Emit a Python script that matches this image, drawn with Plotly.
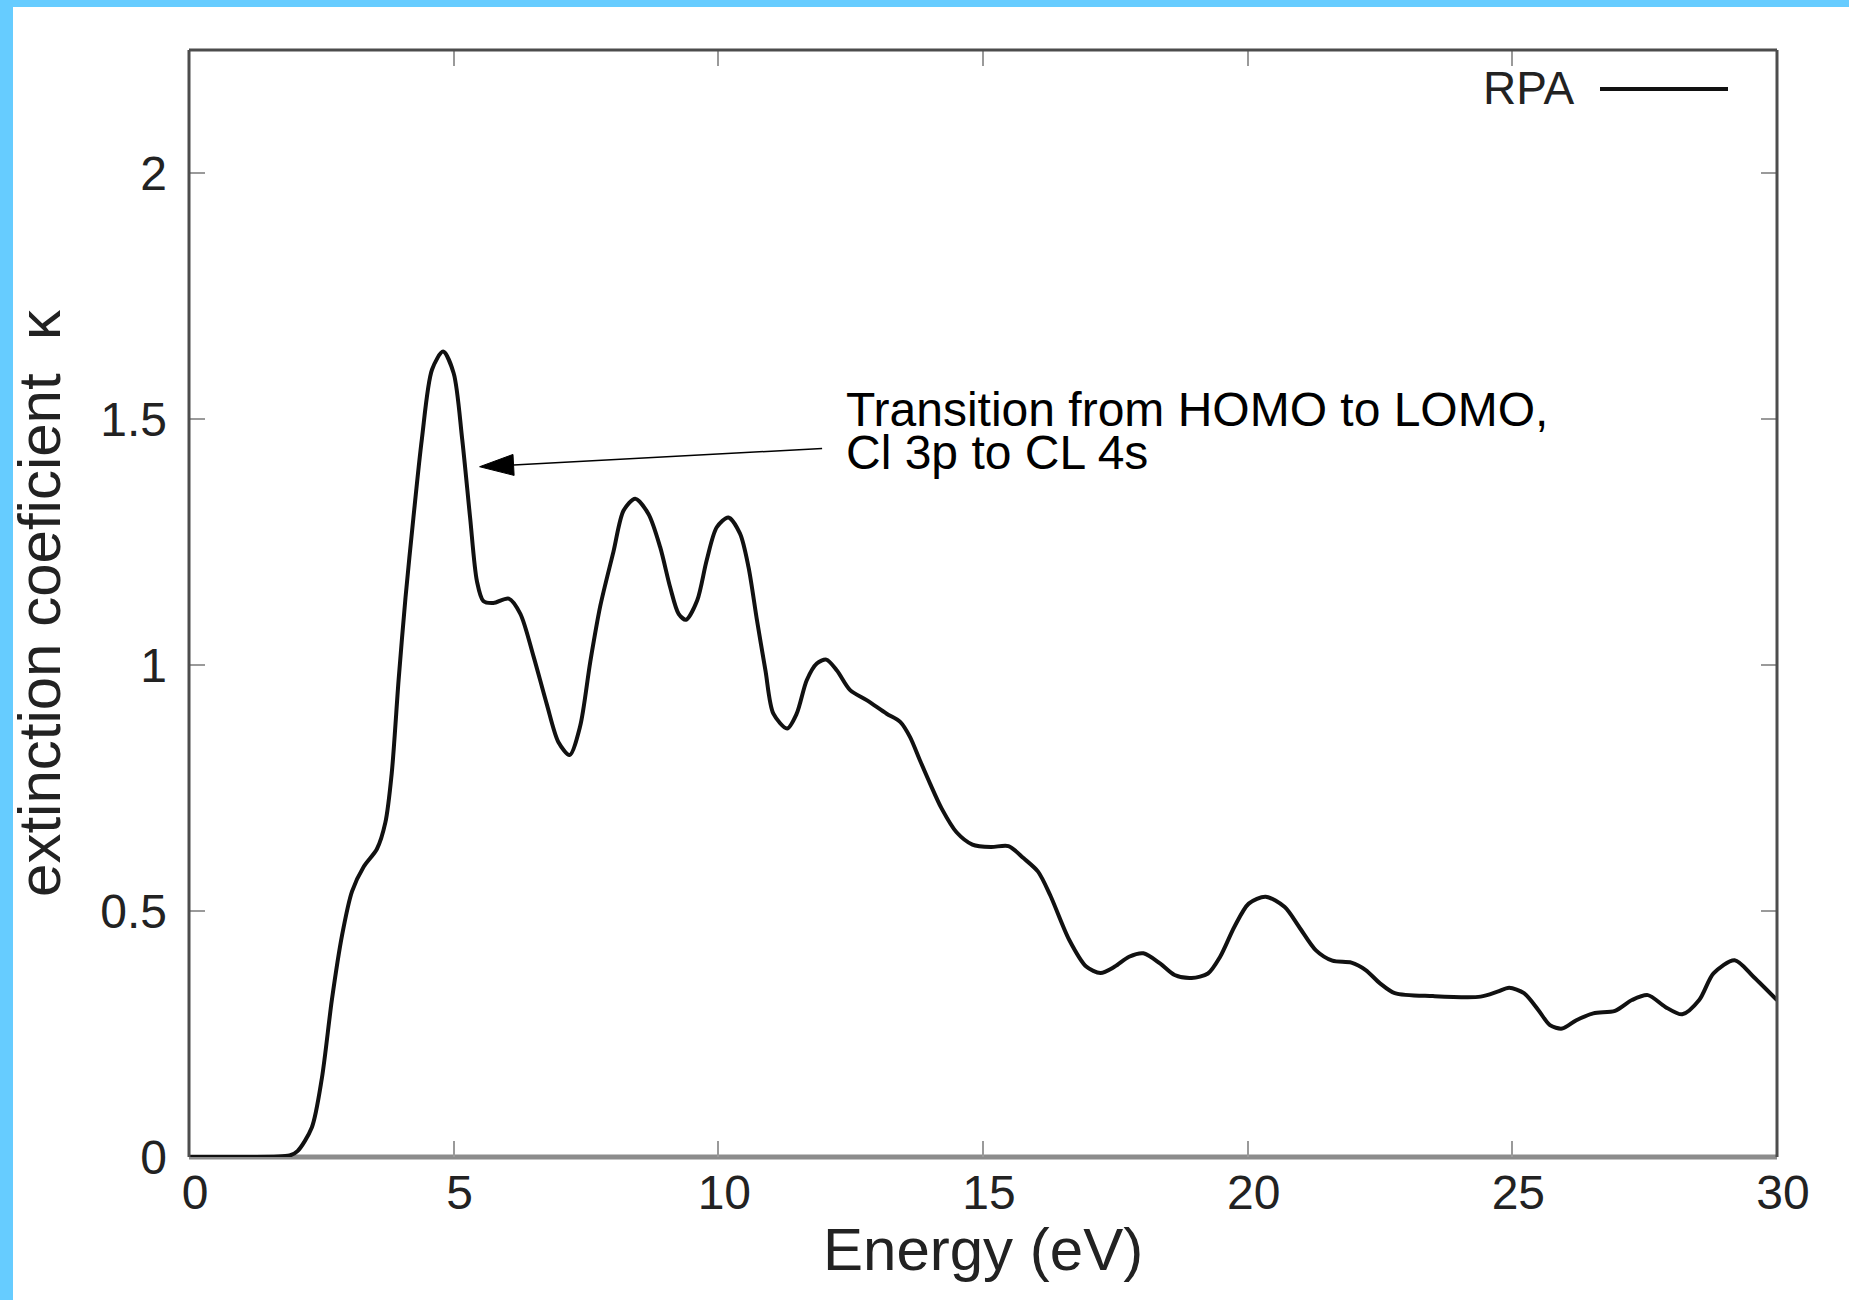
import numpy as np
import plotly.graph_objects as go

# ---------------- data ----------------
energy = [0, 1.0, 1.9, 2.05, 2.32, 2.51, 2.70, 2.89, 3.08, 3.30, 3.55, 3.71, 3.83, 3.96,
          4.09, 4.24, 4.40, 4.59, 4.80, 5.00, 5.16, 5.31, 5.44, 5.56, 5.75, 6.04, 6.26,
          6.51, 6.76, 6.98, 7.19, 7.39, 7.58, 7.77, 8.02, 8.21, 8.43, 8.68, 8.90, 9.09,
          9.25, 9.39, 9.60, 9.78, 9.97, 10.19, 10.41, 10.57, 10.73, 10.89, 11.04, 11.30,
          11.48, 11.67, 11.86, 12.04, 12.24, 12.49, 12.81, 13.18, 13.44, 13.62, 13.81,
          14.00, 14.22, 14.5, 14.8, 15.15, 15.48, 15.77, 16.04, 16.27, 16.63, 16.95,
          17.22, 17.49, 17.76, 18.03, 18.35, 18.62, 18.94, 19.25, 19.48, 19.75, 20.02,
          20.34, 20.70, 20.97, 21.29, 21.60, 21.96, 22.23, 22.50, 22.78, 23.50, 24.40,
          24.72, 24.94, 25.22, 25.49, 25.71, 25.94, 26.21, 26.53, 26.94, 27.26, 27.56,
          27.89, 28.21, 28.53, 28.80, 29.20, 29.56, 30.0]
kappa = [0, 0, 0.003, 0.012, 0.06, 0.16, 0.32, 0.45, 0.54, 0.59, 0.626, 0.68, 0.78, 0.97,
         1.137, 1.30, 1.46, 1.60, 1.637, 1.593, 1.46, 1.30, 1.17, 1.13, 1.126, 1.135, 1.104,
         1.017, 0.92, 0.843, 0.817, 0.876, 1.006, 1.12, 1.231, 1.314, 1.338, 1.307, 1.24, 1.158,
         1.104, 1.092, 1.131, 1.213, 1.28, 1.30, 1.267, 1.199, 1.091, 0.989, 0.901, 0.871,
         0.901, 0.969, 1.003, 1.011, 0.989, 0.949, 0.928, 0.901, 0.884, 0.854, 0.806,
         0.759, 0.708, 0.66, 0.635, 0.63, 0.632, 0.607, 0.58, 0.532, 0.441, 0.387,
         0.374, 0.387, 0.407, 0.414, 0.393, 0.37, 0.364, 0.373, 0.407, 0.468, 0.515,
         0.529, 0.508, 0.468, 0.42, 0.399, 0.395, 0.38, 0.353, 0.333, 0.327, 0.326,
         0.336, 0.344, 0.333, 0.299, 0.268, 0.261, 0.278, 0.292, 0.297, 0.319, 0.329,
         0.305, 0.29, 0.319, 0.373, 0.40, 0.366, 0.319]

x_ticks = [0, 5, 10, 15, 20, 25, 30]
y_ticks = [0, 0.5, 1, 1.5, 2]
y_tick_labels = ["0", "0.5", "1", "1.5", "2"]
series_name = "RPA"
x_title = "Energy (eV)"
y_title = "extinction coeficient  κ"
note_line1 = "Transition from HOMO to LOMO,"
note_line2 = "Cl 3p to CL 4s"
arrow_tip = (5.49, 1.403)
arrow_tail = (11.96, 1.440)
note_x = 12.38

# ---------------- layout constants ----------------
W, H = 1849, 1300
ML, MR, MT, MB = 189, 72, 50, 143
PW, PH = W - ML - MR, H - MT - MB
FONT = "Liberation Sans, Arial, Helvetica, sans-serif"
DARK = "#4d4d4d"
BLUE = "#66CCFF"

def px_to_paper_x(px):
    return (px - ML) / PW

def px_to_paper_y(py):
    return (H - MB - py) / PH

fig = go.Figure()
fig.add_trace(go.Scatter(
    x=energy, y=kappa, mode="lines", name=series_name,
    line=dict(color="#111111", width=4, shape="spline", smoothing=0.8),
    showlegend=False,
))

axis_common = dict(
    ticks="inside", ticklen=16, tickwidth=2, tickcolor="#9a9a9a",
    mirror="ticks", showgrid=False, zeroline=False, showline=False,
    tickfont=dict(family=FONT, size=48, color="#222222"),
)
fig.update_xaxes(range=[0, 30], tickvals=x_ticks, ticklabelstandoff=3,
                 ticklabelshift=6, **axis_common)
fig.update_yaxes(range=[0, 2.25], tickvals=y_ticks, ticktext=y_tick_labels,
                 ticklabelstandoff=21,
                 title=dict(text=y_title, font=dict(family=FONT, size=60, color="#222222"),
                            standoff=20),
                 **axis_common)

shapes = []
# frame
shapes.append(dict(type="line", xref="paper", yref="paper", x0=0, x1=0, y0=0, y1=1,
                   line=dict(color=DARK, width=3), layer="above"))
shapes.append(dict(type="line", xref="paper", yref="paper", x0=1, x1=1, y0=0, y1=1,
                   line=dict(color=DARK, width=3), layer="above"))
shapes.append(dict(type="line", xref="paper", yref="paper", x0=0, x1=1, y0=1, y1=1,
                   line=dict(color=DARK, width=3), layer="above"))
shapes.append(dict(type="line", xref="paper", yref="paper", x0=0, x1=1, y0=0, y1=0,
                   line=dict(color="#8c8c8c", width=5), layer="below"))
# blue page border (left and top)
shapes.append(dict(type="rect", xref="paper", yref="paper",
                   x0=px_to_paper_x(0), x1=px_to_paper_x(13),
                   y0=px_to_paper_y(H), y1=px_to_paper_y(0),
                   fillcolor=BLUE, line=dict(width=0), layer="above"))
shapes.append(dict(type="rect", xref="paper", yref="paper",
                   x0=px_to_paper_x(0), x1=px_to_paper_x(W),
                   y0=px_to_paper_y(7), y1=px_to_paper_y(0),
                   fillcolor=BLUE, line=dict(width=0), layer="above"))
# legend sample line
shapes.append(dict(type="line", xref="paper", yref="paper",
                   x0=px_to_paper_x(1600), x1=px_to_paper_x(1728),
                   y0=px_to_paper_y(89), y1=px_to_paper_y(89),
                   line=dict(color="#111111", width=4), layer="above"))

# arrow: shaft + arrowhead (pixel-sized triangle anchored at the tip)
x_scale = PW / 30.0
y_scale = PH / 2.25
dxp = (arrow_tail[0] - arrow_tip[0]) * x_scale
dyp = (arrow_tail[1] - arrow_tip[1]) * y_scale
L = np.hypot(dxp, dyp)
ux, uy = dxp / L, dyp / L
head_len, head_half = 34, 10.5
bx, by = ux * head_len, uy * head_len
p1 = (bx - uy * head_half, by + ux * head_half)
p2 = (bx + uy * head_half, by - ux * head_half)
shapes.append(dict(type="path", xref="x", yref="y", xsizemode="pixel", ysizemode="pixel",
                   xanchor=arrow_tip[0], yanchor=arrow_tip[1],
                   path=f"M0,0 L{p1[0]:.2f},{p1[1]:.2f} L{p2[0]:.2f},{p2[1]:.2f} Z",
                   fillcolor="#000000", line=dict(color="#000000", width=1), layer="above"))
shaft_start_x = arrow_tip[0] + bx / x_scale
shaft_start_y = arrow_tip[1] + by / y_scale
shapes.append(dict(type="line", xref="x", yref="y",
                   x0=shaft_start_x, y0=shaft_start_y, x1=arrow_tail[0], y1=arrow_tail[1],
                   line=dict(color="#000000", width=1.5), layer="above"))

annotations = [
    dict(x=note_x, y=1.520, xref="x", yref="y", text=note_line1, showarrow=False,
         xanchor="left", yanchor="middle", font=dict(family=FONT, size=48, color="#000000")),
    dict(x=note_x, y=1.432, xref="x", yref="y", text=note_line2, showarrow=False,
         xanchor="left", yanchor="middle", font=dict(family=FONT, size=48, color="#000000")),
    dict(x=px_to_paper_x(1576), y=px_to_paper_y(88), xref="paper", yref="paper",
         text=series_name, showarrow=False, xanchor="right", yanchor="middle",
         font=dict(family=FONT, size=46, color="#222222")),
    # x-axis title
    dict(x=0.5, y=px_to_paper_y(1249), xref="paper", yref="paper",
         text=x_title, showarrow=False, xanchor="center", yanchor="middle",
         font=dict(family=FONT, size=60, color="#222222")),
]

fig.update_layout(
    width=W, height=H,
    margin=dict(l=ML, r=MR, t=MT, b=MB, pad=0),
    paper_bgcolor="#ffffff", plot_bgcolor="#ffffff",
    shapes=shapes, annotations=annotations,
    showlegend=False,
)

fig.write_html(
    "out.html",
    config={"displayModeBar": False},
    post_script="document.body.style.margin='0';document.body.style.padding='0';"
                "document.body.style.overflow='hidden';",
)
